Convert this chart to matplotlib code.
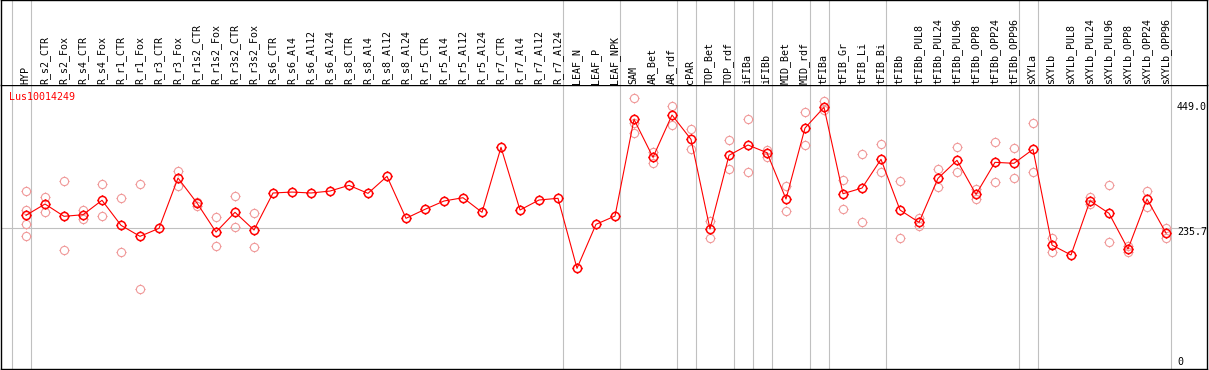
import numpy as np
import matplotlib
matplotlib.use("Agg")
import matplotlib.pyplot as plt
from matplotlib.path import Path

gene = "Lus10014249"

labels = ["HYP",
          "R_s2_CTR", "R_s2_Fox", "R_s4_CTR", "R_s4_Fox",
          "R_r1_CTR", "R_r1_Fox", "R_r3_CTR", "R_r3_Fox",
          "R_r1s2_CTR", "R_r1s2_Fox", "R_r3s2_CTR", "R_r3s2_Fox",
          "R_s6_CTR", "R_s6_Al4", "R_s6_Al12", "R_s6_Al24",
          "R_s8_CTR", "R_s8_Al4", "R_s8_Al12", "R_s8_Al24",
          "R_r5_CTR", "R_r5_Al4", "R_r5_Al12", "R_r5_Al24",
          "R_r7_CTR", "R_r7_Al4", "R_r7_Al12", "R_r7_Al24",
          "LEAF_N", "LEAF_P", "LEAF_NPK",
          "SAM", "AR_Bet", "AR_rdf", "cPAR", "TOP_Bet", "TOP_rdf",
          "iFIBa", "iFIBb", "MID_Bet", "MID_rdf", "tFIBa",
          "tFIB_Gr", "tFIB_Li", "tFIB_Bi",
          "tFIBb", "tFIBb_PUL8", "tFIBb_PUL24", "tFIBb_PUL96",
          "tFIBb_OPP8", "tFIBb_OPP24", "tFIBb_OPP96",
          "sXYLa", "sXYLb", "sXYLb_PUL8", "sXYLb_PUL24", "sXYLb_PUL96",
          "sXYLb_OPP8", "sXYLb_OPP24", "sXYLb_OPP96"]

# mean expression per sample
means = [257.8,
         277.0, 256.1, 258.8, 283.3,
         240.8, 222.1, 235.7, 321.1,
         278.7, 229.4, 262.9, 232.8,
         295.7, 297.3, 295.7, 299.0,
         308.7, 295.1, 324.0, 252.7,
         268.0, 282.1, 287.7, 262.9,
         373.3, 266.8, 283.8, 286.7,
         167.8, 242.5, 256.6,
         420.8, 356.3, 428.1, 386.8, 234.5, 359.7,
         377.2, 364.1, 285.5, 406.0, 441.2,
         294.5, 304.1, 352.9,
         266.8, 245.9, 320.6, 351.2,
         293.4, 347.8, 346.1,
         369.9, 207.3, 190.4, 282.6, 261.2,
         200.5, 285.5, 227.7]

# individual replicates
reps = [[299.0, 266.8, 242.5, 222.1],
        [288.9, 262.9], [316.0, 198.8], [266.8, 251.5], [310.9, 256.1],
        [286.7, 194.9], [310.9, 132.1], [], [333.0, 308.0],
        [280.4, 274.1], [254.4, 205.1], [290.0, 237.4], [261.2, 203.4],
        [], [], [], [],
        [], [], [], [],
        [], [], [], [],
        [], [], [], [],
        [], [], [],
        [457.0, 414.0, 398.1], [364.8, 347.1], [443.4, 411.1],
        [403.8, 369.9], [248.1, 219.7], [385.2, 335.9],
        [420.8, 330.8], [368.7, 356.3], [307.5, 265.1], [432.7, 376.7],
        [452.4, 436.6],
        [317.7, 268.0], [361.9, 245.9], [378.9, 331.8],
        [316.0, 218.7], [252.7, 240.1], [336.4, 305.3], [373.3, 331.3],
        [302.4, 285.0], [382.3, 313.8], [371.6, 320.6],
        [414.0, 330.8], [219.2, 194.9], [], [289.4, 277.0], [309.2, 211.9],
        [206.2, 194.9], [299.0, 271.4], [236.2, 219.7]]

# group borders: separator drawn right after these sample indices
group_ends = [-1, 0, 28, 31, 34, 35, 37, 38, 39, 41, 42, 45, 52, 53, 60]

y_labels = [449.0, 235.7, 0]

W, H = 1209, 370
fig = plt.figure(figsize=(W / 100, H / 100), dpi=100)

mono = "DejaVu Sans Mono"
grey = "#c0c0c0"
pink = "#f09a9a"

# circle with little ticks marker
circ = Path.unit_circle()
parts = [circ]
for dx, dy in [(1, 0), (-1, 0), (0, 1), (0, -1)]:
    parts.append(Path([(dx, dy), (1.22 * dx, 1.22 * dy)], [Path.MOVETO, Path.LINETO]))
mk = Path.make_compound_path(*parts)

top_px = 85.3
x0, x1 = (1 - 26) / 19, (1207 - 26) / 19

ax = fig.add_axes([1 / W, 1 - 369 / H, 1206 / W, (369 - top_px) / H])
hx = fig.add_axes([1 / W, 1 - top_px / H, 1206 / W, top_px / H])

ax.set_xlim(x0, x1)
ax.set_ylim(-3.2, 478.6)
hx.set_xlim(x0, x1)
hx.set_ylim(top_px, 0)

for a in (ax, hx):
    a.set_xticks([])
    a.set_yticks([])
    for s in a.spines.values():
        s.set_color("black")
        s.set_linewidth(1.0)
hx.spines["bottom"].set_visible(False)

for g in group_ends:
    ax.axvline(g + 0.247, color=grey, lw=0.8, zorder=1)
    hx.axvline(g + 0.247, color=grey, lw=0.8, zorder=1)
ax.axhline(y_labels[1], color=grey, lw=0.8, zorder=1)

xs = np.arange(len(labels))
for i, r in enumerate(reps):
    if r:
        ax.plot([i] * len(r), r, linestyle="none", marker=mk, ms=7.2,
                mfc="none", mec=pink, mew=0.8, zorder=2)

ax.plot(xs, means, color="red", lw=0.8, zorder=3)
ax.plot(xs, means, linestyle="none", marker=mk, ms=7.2, mfc="none",
        mec="red", mew=1.1, zorder=4)

for i, lab in enumerate(labels):
    hx.text(i - 0.03, 84, lab, rotation=90, ha="center", va="bottom",
            family=mono, fontsize=7.2, color="black")

fig.text(9 / W, 1 - 97 / H, gene, color="red", family=mono, fontsize=7.2,
         ha="left", va="center")

for v, py in zip(y_labels, [106.7, 232.3, 361.7]):
    fig.text(1177 / W, 1 - py / H, str(v) if v else "0", family=mono,
             fontsize=7.2, ha="left", va="center", color="black")

fig.savefig("out.png", dpi=100, facecolor="white")
